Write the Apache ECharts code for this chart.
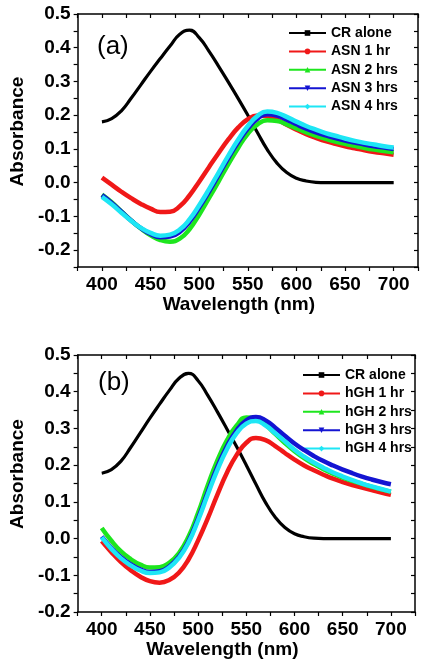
<!DOCTYPE html>
<html>
<head>
<meta charset="utf-8">
<script src="https://cdn.jsdelivr.net/npm/echarts@6/dist/echarts.min.js"></script>
<style>
html,body{margin:0;padding:0;background:#fff;}
#chart{width:423px;height:667px;}
</style>
</head>
<body>
<div id="chart"></div>
<script>
// ---------- data ----------
const wavelengths = [400,410,420,430,440,450,460,470,480,490,500,510,520,530,540,550,560,570,580,590,600,610,620,630,640,650,660,670,680,690,700];

// Panel (a)
const namesA = ['CR alone','ASN 1 hr','ASN 2 hrs','ASN 3 hrs','ASN 4 hrs'];
const crAloneA = [0.180,0.190,0.213,0.250,0.290,0.330,0.368,0.405,0.440,0.452,0.430,0.390,0.345,0.298,0.250,0.200,0.148,0.098,0.058,0.030,0.013,0.005,0.001,0,0,0,0,0,0,0,0];
const asn1 = [0.015,-0.006,-0.027,-0.046,-0.063,-0.077,-0.087,-0.086,-0.070,-0.038,0.003,0.046,0.088,0.128,0.163,0.188,0.199,0.197,0.187,0.172,0.157,0.144,0.133,0.123,0.115,0.108,0.102,0.096,0.091,0.087,0.083];
const asn2 = [-0.035,-0.058,-0.085,-0.112,-0.136,-0.156,-0.170,-0.175,-0.166,-0.138,-0.095,-0.046,0.004,0.055,0.103,0.145,0.173,0.185,0.183,0.173,0.161,0.149,0.139,0.130,0.122,0.115,0.109,0.103,0.098,0.094,0.090];
const asn3 = [-0.037,-0.060,-0.086,-0.112,-0.135,-0.152,-0.162,-0.160,-0.146,-0.116,-0.074,-0.027,0.023,0.073,0.120,0.160,0.190,0.203,0.199,0.187,0.173,0.160,0.149,0.140,0.132,0.125,0.119,0.113,0.108,0.104,0.100];
const asn4 = [-0.042,-0.064,-0.089,-0.113,-0.134,-0.149,-0.157,-0.154,-0.139,-0.109,-0.067,-0.020,0.030,0.080,0.127,0.168,0.198,0.211,0.207,0.195,0.181,0.168,0.157,0.147,0.139,0.131,0.124,0.118,0.113,0.108,0.104];

// Panel (b)
const namesB = ['CR alone','hGH 1 hr','hGH 2 hrs','hGH 3 hrs','hGH 4 hrs'];
const crAloneB = [0.178,0.188,0.211,0.248,0.288,0.328,0.366,0.403,0.436,0.450,0.430,0.390,0.345,0.298,0.250,0.200,0.148,0.098,0.058,0.030,0.013,0.005,0.001,0,0,0,0,0,0,0,0];
const hgh1 = [-0.007,-0.037,-0.064,-0.086,-0.104,-0.116,-0.120,-0.113,-0.093,-0.057,-0.005,0.055,0.120,0.180,0.228,0.261,0.274,0.268,0.252,0.233,0.215,0.199,0.186,0.174,0.163,0.154,0.146,0.139,0.132,0.125,0.119];
const hgh2 = [0.029,-0.006,-0.035,-0.056,-0.071,-0.079,-0.078,-0.066,-0.040,0.005,0.070,0.145,0.213,0.268,0.308,0.330,0.328,0.310,0.285,0.260,0.238,0.219,0.203,0.189,0.177,0.166,0.157,0.149,0.141,0.134,0.128];
const hgh3 = [0.005,-0.026,-0.051,-0.070,-0.084,-0.091,-0.089,-0.076,-0.050,-0.007,0.055,0.127,0.195,0.252,0.295,0.322,0.331,0.322,0.302,0.280,0.259,0.241,0.225,0.211,0.199,0.188,0.178,0.169,0.161,0.154,0.148];
const hgh4 = [0.003,-0.028,-0.054,-0.073,-0.087,-0.094,-0.092,-0.079,-0.053,-0.011,0.050,0.120,0.187,0.244,0.287,0.313,0.320,0.308,0.287,0.265,0.242,0.223,0.207,0.193,0.180,0.169,0.159,0.150,0.142,0.135,0.128];

const xTickLabels = ['400','450','500','550','600','650','700'];
const yTickLabels = ['-0.2','-0.1','0.0','0.1','0.2','0.3','0.4','0.5'];

// ---------- styling ----------
const colors = ['#000000','#f01818','#1ee61e','#1414d2','#1ee6f5'];
const symbols = ['rect','circle','triangle','triangle','diamond'];
const rotations = [0,0,0,180,0];
const widths = [3.2,4.5,4.5,4.5,4.5];
const FONT = 'Liberation Sans, Arial, sans-serif';

function pairs(vals){ return wavelengths.map((w,i)=>[w, vals[i]]); }

function xFmt(v){ const r = Math.round(v); return (Math.abs(v - r) < 1e-6 && xTickLabels.indexOf(String(r)) >= 0) ? String(r) : ''; }
function yFmt(v){
  const r = Math.round(v*10);
  if (Math.abs(v*10 - r) > 1e-6) return '';
  let s = (r/10).toFixed(1);
  if (s === '-0.0') s = '0.0';
  return yTickLabels.indexOf(s) >= 0 ? s : '';
}

function makeAxes(gridIndex, ymin, xNamePad, yNamePad){
  const xBottom = {
    type:'value', gridIndex, min:375, max:725, interval:25, position:'bottom',
    name:'Wavelength (nm)', nameLocation:'middle', nameGap:28,
    nameTextStyle:{fontFamily:FONT, fontWeight:'bold', fontSize:19, color:'#000', padding:xNamePad},
    axisLine:{show:true, onZero:false, lineStyle:{color:'#000', width:1.5}},
    axisTick:{show:true, inside:false, length:4, lineStyle:{color:'#000', width:1.2}},
    axisLabel:{show:true, formatter:xFmt, fontFamily:FONT, fontWeight:'bold', fontSize:19, color:'#000', margin:8, showMinLabel:true, showMaxLabel:true},
    splitLine:{show:false}
  };
  const xTop = {
    type:'value', gridIndex, min:375, max:725, interval:25, position:'top',
    axisLine:{show:true, onZero:false, lineStyle:{color:'#000', width:1.5}},
    axisTick:{show:true, inside:true, length:4, lineStyle:{color:'#000', width:1.2}},
    axisLabel:{show:false}, splitLine:{show:false}
  };
  const yLeft = {
    type:'value', gridIndex, min:ymin, max:0.5, interval:0.05, position:'left',
    name:'Absorbance', nameLocation:'middle', nameGap:44, nameRotate:90,
    nameTextStyle:{fontFamily:FONT, fontWeight:'bold', fontSize:19, color:'#000', padding:yNamePad},
    axisLine:{show:true, onZero:false, lineStyle:{color:'#000', width:1.5}},
    axisTick:{show:true, inside:false, length:4, lineStyle:{color:'#000', width:1.2}},
    axisLabel:{show:true, formatter:yFmt, fontFamily:FONT, fontWeight:'bold', fontSize:19, color:'#000', margin:7, showMinLabel:true, showMaxLabel:true},
    splitLine:{show:false}
  };
  const yRight = {
    type:'value', gridIndex, min:ymin, max:0.5, interval:0.05, position:'right',
    axisLine:{show:true, onZero:false, lineStyle:{color:'#000', width:1.5}},
    axisTick:{show:true, inside:true, length:4, lineStyle:{color:'#000', width:1.2}},
    axisLabel:{show:false}, splitLine:{show:false}
  };
  return {x:[xBottom, xTop], y:[yLeft, yRight]};
}

const axA = makeAxes(0, -0.25, [0,18,0,0], [0,0,0,18]);
const axB = makeAxes(1, -0.2, [0,48,0,0], [0,0,0,19]);

function makeSeries(names, datasets, axisIndex){
  return names.map((n,i)=>({
    type:'line', name:n, xAxisIndex:axisIndex, yAxisIndex:axisIndex,
    data:pairs(datasets[i]), smooth:0.5,
    showSymbol:false, symbol:symbols[i], symbolRotate:rotations[i], symbolSize:6,
    lineStyle:{color:colors[i], width:widths[i]}, itemStyle:{color:colors[i]},
    z: 2 + i, silent:true
  }));
}

const seriesA = makeSeries(namesA, [crAloneA, asn1, asn2, asn3, asn4], 0);
const seriesB = makeSeries(namesB, [crAloneB, hgh1, hgh2, hgh3, hgh4], 2);

function legend(names, left, top){
  return {
    data:names, orient:'vertical', left, top, padding:0, itemWidth:37, itemHeight:7, itemGap:4.4,
    selectedMode:false, symbolRotate:'inherit',
    lineStyle:{width:2},
    textStyle:{fontFamily:FONT, fontWeight:'bold', fontSize:14, color:'#000'}
  };
}

const option = {
  animation:false,
  backgroundColor:'#fff',
  grid:[
    {left:70, top:14, width:348, height:253},
    {left:69, top:355, width:346, height:257}
  ],
  xAxis:[axA.x[0], axA.x[1], axB.x[0], axB.x[1]],
  yAxis:[axA.y[0], axA.y[1], axB.y[0], axB.y[1]],
  legend:[legend(namesA, 288, 26), legend(namesB, 302, 368)],
  graphic:[
    {type:'text', x:97, y:47, style:{text:'(a)', fontFamily:FONT, fontSize:26, fill:'#000', verticalAlign:'middle'}},
    {type:'text', x:98, y:383, style:{text:'(b)', fontFamily:FONT, fontSize:26, fill:'#000', verticalAlign:'middle'}}
  ],
  series:[...seriesA, ...seriesB]
};

const chart = echarts.init(document.getElementById('chart'), null, {renderer:'canvas'});
chart.setOption(option);
</script>
</body>
</html>
